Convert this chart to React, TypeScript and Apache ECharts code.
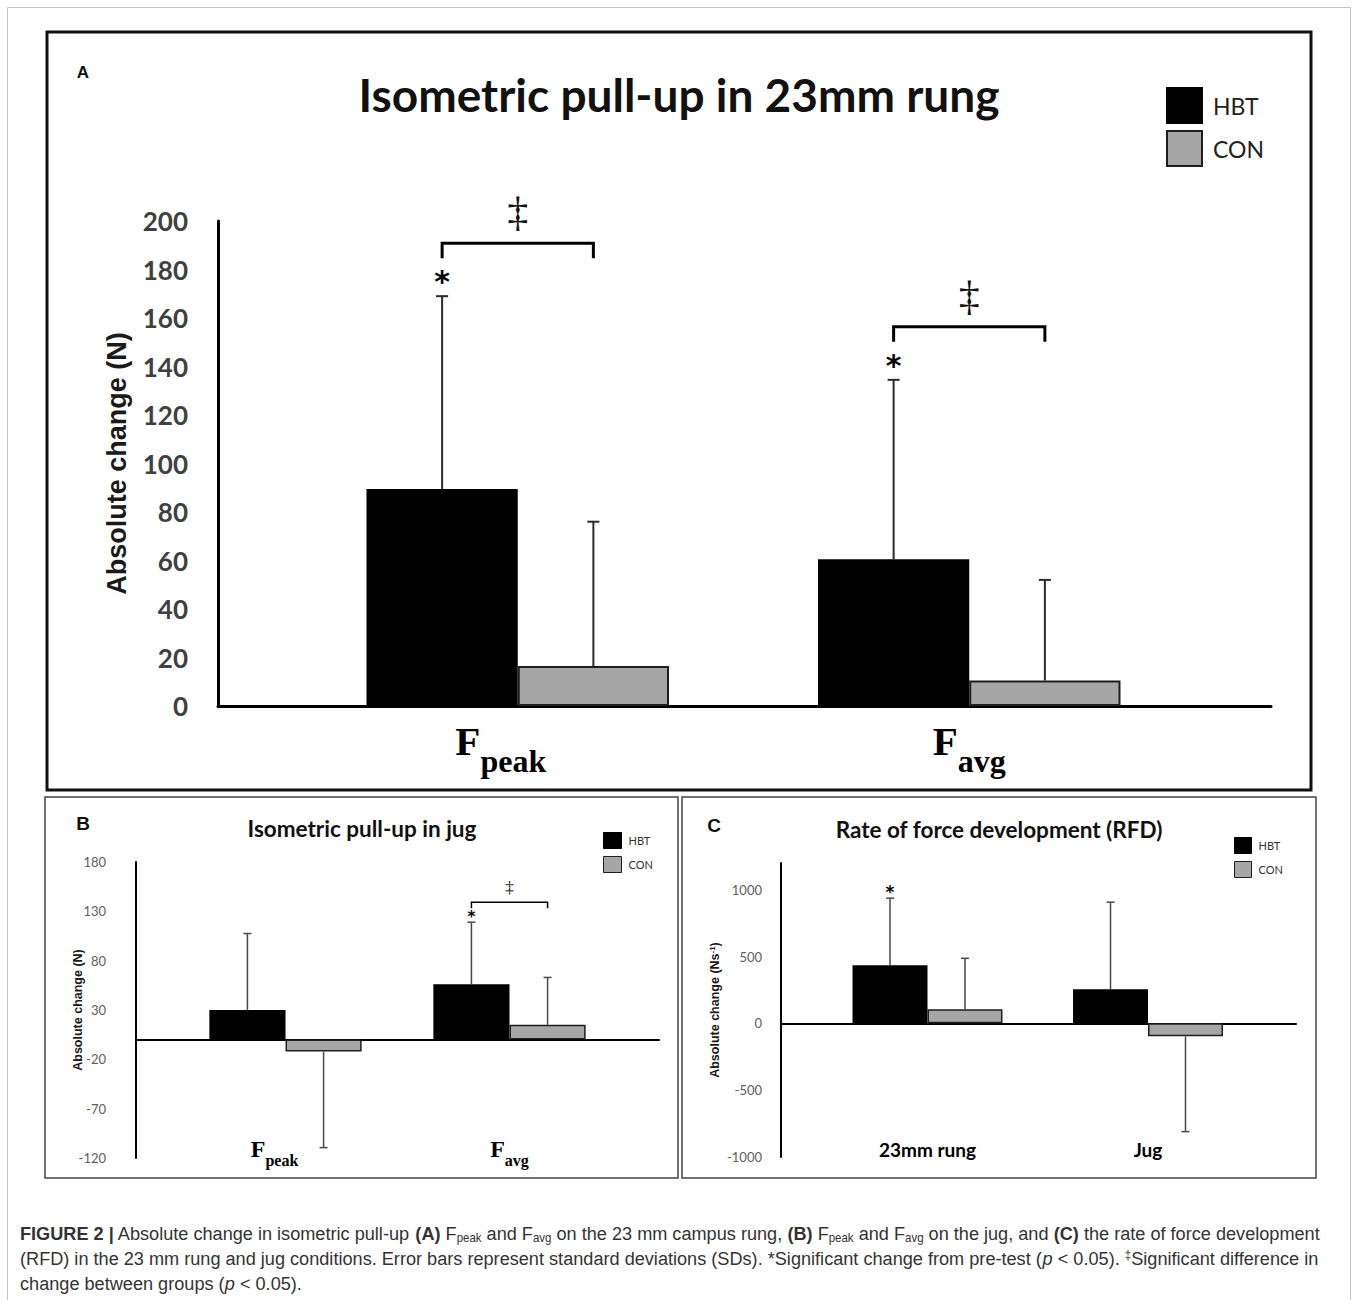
import React, { useEffect, useRef } from 'react';
import * as echarts from 'echarts';

// ---------- data ----------
const groupNames = ['HBT', 'CON'];

// Panel A: isometric pull-up in 23 mm rung (N)
const categoriesA = ['Fpeak', 'Favg'];
const hbtMeanA = [89.5, 60.5];
const hbtSdA = [79.5, 74];
const conMeanA = [16.5, 10.5];
const conSdA = [59.5, 41.5];
const starA = [1, 1];
const daggerA = [1, 1];
const yTicksA = [0, 200, 20]; // min, max, step

// Panel B: isometric pull-up in jug (N)
const categoriesB = ['Fpeak', 'Favg'];
const hbtMeanB = [30, 56];
const hbtSdB = [77.5, 63];
const conMeanB = [-12, 15];
const conSdB = [97.5, 48];
const starB = [0, 1];
const daggerB = [0, 1];
const yTicksB = [-120, 180, 50];

// Panel C: rate of force development (N/s)
const categoriesC = ['23mm rung', 'Jug'];
const hbtMeanC = [435, 255];
const hbtSdC = [502, 652];
const conMeanC = [105, -97];
const conSdC = [382, 713];
const starC = [1, 0];
const daggerC = [0, 0];
const yTicksC = [-1000, 1200, 500];

// ---------- styles ----------
const SANS = 'Lato, "Open Sans", "Liberation Sans", sans-serif';
const SERIF = '"Liberation Serif", "DejaVu Serif", serif';
const ARIAL = '"Liberation Sans", Arial, sans-serif';
const DEJA = '"DejaVu Sans", sans-serif';

type ErrStyle = {
  barFrac: number;
  errColor: string;
  errWidth: number;
  cap: number;
  starSize: number;
  starGap: number;
  bracketGap: number;
  bracketLeg: number;
  bracketWidth: number;
  daggerSize: number;
  daggerGap: number;
};

function errorSeries(
  cats: string[], hbt: number[], hbtSd: number[], con: number[], conSd: number[],
  star: number[], dagger: number[], axisIndex: number, st: ErrStyle
) {
  return {
    type: 'custom',
    xAxisIndex: axisIndex,
    yAxisIndex: axisIndex,
    z: 10,
    silent: true,
    data: cats.map((c, i) => [i, hbt[i], hbtSd[i], con[i], conSd[i], star[i], dagger[i]]),
    renderItem: (params: any, api: any) => {
      const i = api.value(0);
      const band = api.size([1, 0])[0];
      const bw = band * st.barFrac;
      const cx = api.coord([i, 0])[0];
      const xs = [cx - bw / 2, cx + bw / 2];
      const vals = [api.value(1), api.value(3)];
      const sds = [api.value(2), api.value(4)];
      const children: any[] = [];
      const ends: number[] = [];
      for (let k = 0; k < 2; k++) {
        const v = vals[k];
        const end = v >= 0 ? v + sds[k] : v - sds[k];
        const y0 = api.coord([i, v])[1];
        const y1 = api.coord([i, end])[1];
        ends.push(y1);
        const ls = { stroke: st.errColor, lineWidth: st.errWidth };
        children.push({ type: 'line', shape: { x1: xs[k], y1: y0, x2: xs[k], y2: y1 }, style: ls });
        children.push({ type: 'line', shape: { x1: xs[k] - st.cap / 2, y1, x2: xs[k] + st.cap / 2, y2: y1 }, style: ls });
      }
      if (api.value(5)) {
        children.push({
          type: 'text',
          x: xs[0],
          y: ends[0] - st.starGap + 0.18 * st.starSize,
          style: { text: '*', fontSize: st.starSize, fontFamily: DEJA, fontWeight: 'bold', fill: '#000', align: 'center', verticalAlign: 'middle' },
        });
      }
      if (api.value(6)) {
        const by = Math.min(ends[0], ends[1]) - st.bracketGap;
        children.push({
          type: 'polyline',
          shape: { points: [[xs[0], by + st.bracketLeg], [xs[0], by], [xs[1], by], [xs[1], by + st.bracketLeg]] },
          style: { fill: 'none', stroke: '#000', lineWidth: st.bracketWidth },
        });
        children.push({
          type: 'text',
          x: cx,
          y: by - st.daggerGap,
          style: { text: '\u2021', fontSize: st.daggerSize, fontFamily: SERIF, fill: '#111', align: 'center', verticalAlign: 'middle' },
        });
      }
      return { type: 'group', children };
    },
  };
}

function barSeries(name: string, data: number[], axisIndex: number, isHbt: boolean, bw: number, frac: string) {
  return {
    type: 'bar',
    name,
    xAxisIndex: axisIndex,
    yAxisIndex: axisIndex,
    data,
    barWidth: frac,
    barGap: '0%',
    z: 2,
    itemStyle: isHbt
      ? { color: '#000', borderColor: '#000', borderWidth: bw }
      : { color: '#a6a6a6', borderColor: '#1e1e1e', borderWidth: bw },
  };
}

// "F" + subscript; the Fpeak label sits a little left of its category centre
const subLabel = (v: string) => `{F|${v[0]}}{s|${v.slice(1)}}` + (v === 'Fpeak' ? '{w|}' : '');

function buildOption() {
  const grids = [
    { left: 292, top: 221, width: 903, height: 485 }, // A bars
    { left: 218, top: 221, width: 1053, height: 485 }, // A axis line
    { left: 173.5, top: 862, width: 448, height: 296 }, // B bars
    { left: 136, top: 862, width: 523, height: 296 }, // B axis line
    { left: 817.25, top: 863, width: 441, height: 294 }, // C bars
    { left: 781, top: 863, width: 515, height: 294 }, // C axis line
  ];

  const xAxis: any[] = [
    {
      gridIndex: 0, type: 'category', data: categoriesA,
      axisLine: { show: false, onZero: false }, axisTick: { show: false },
      axisLabel: {
        interval: 0, margin: 14, formatter: subLabel,
        rich: {
          F: { fontFamily: SERIF, fontWeight: 'bold', fontSize: 41, color: '#000', verticalAlign: 'top' },
          s: { fontFamily: SERIF, fontWeight: 'bold', fontSize: 32, color: '#000', verticalAlign: 'top', padding: [25, 0, 0, 0] },
          w: { width: 34 },
        },
      },
    },
    {
      gridIndex: 1, type: 'category', data: categoriesA,
      axisLine: { lineStyle: { color: '#000', width: 3 } }, axisTick: { show: false }, axisLabel: { show: false },
    },
    {
      gridIndex: 2, type: 'category', data: categoriesB,
      axisLine: { show: false, onZero: false }, axisTick: { show: false },
      axisLabel: {
        interval: 0, margin: -21, formatter: subLabel,
        rich: {
          F: { fontFamily: SERIF, fontWeight: 'bold', fontSize: 24, color: '#000', verticalAlign: 'top' },
          s: { fontFamily: SERIF, fontWeight: 'bold', fontSize: 16, color: '#000', verticalAlign: 'top', padding: [15, 0, 0, 0] },
          w: { width: 22 },
        },
      },
    },
    {
      gridIndex: 3, type: 'category', data: categoriesB,
      axisLine: { onZero: true, lineStyle: { color: '#000', width: 2 } }, axisTick: { show: false }, axisLabel: { show: false },
    },
    {
      gridIndex: 4, type: 'category', data: categoriesC,
      axisLine: { show: false, onZero: false }, axisTick: { show: false },
      axisLabel: { interval: 0, margin: -17.5, fontFamily: SANS, fontWeight: 'bold', fontSize: 19, color: '#000' },
    },
    {
      gridIndex: 5, type: 'category', data: categoriesC,
      axisLine: { onZero: true, lineStyle: { color: '#000', width: 2 } }, axisTick: { show: false }, axisLabel: { show: false },
    },
  ];

  const yAxis: any[] = [
    {
      gridIndex: 0, type: 'value', min: yTicksA[0], max: yTicksA[1], interval: yTicksA[2], offset: 74,
      axisLine: { show: true, lineStyle: { color: '#000', width: 3 } }, axisTick: { show: false }, splitLine: { show: false },
      axisLabel: { margin: 30, fontFamily: SANS, fontWeight: 'bold', fontSize: 26, color: '#404040' },
      name: 'Absolute change (N)', nameLocation: 'middle', nameRotate: 90, nameGap: 88, nameMoveOverlap: false,
      nameTextStyle: { fontFamily: ARIAL, fontWeight: 'bold', fontSize: 27, color: '#1a1a1a' },
    },
    { gridIndex: 1, type: 'value', min: yTicksA[0], max: yTicksA[1], show: false },
    {
      gridIndex: 2, type: 'value', min: yTicksB[0], max: yTicksB[1], interval: yTicksB[2], offset: 37.5,
      axisLine: { show: true, lineStyle: { color: '#000', width: 2 } }, axisTick: { show: false }, splitLine: { show: false },
      axisLabel: { margin: 30, fontFamily: SANS, fontSize: 13, color: '#606060' },
      name: 'Absolute change (N)', nameLocation: 'middle', nameRotate: 90, nameGap: 52, nameMoveOverlap: false,
      nameTextStyle: { fontFamily: ARIAL, fontWeight: 'bold', fontSize: 12.5, color: '#1a1a1a' },
    },
    { gridIndex: 3, type: 'value', min: yTicksB[0], max: yTicksB[1], show: false },
    {
      gridIndex: 4, type: 'value', min: yTicksC[0], max: yTicksC[1], interval: yTicksC[2], offset: 36.25,
      axisLine: { show: true, lineStyle: { color: '#000', width: 2 } }, axisTick: { show: false }, splitLine: { show: false },
      axisLabel: {
        margin: 19, fontFamily: SANS, fontSize: 13, color: '#606060',
        formatter: (v: number) => (v % yTicksC[2] === 0 ? String(v) : ''),
      },
      name: '{a|Absolute change (Ns}{u|-1}{a|)}', nameLocation: 'middle', nameRotate: 90, nameGap: 59, nameMoveOverlap: false,
      nameTextStyle: {
        rich: {
          a: { fontFamily: ARIAL, fontWeight: 'bold', fontSize: 12.5, color: '#1a1a1a' },
          u: { fontFamily: ARIAL, fontWeight: 'bold', fontSize: 8, color: '#1a1a1a', padding: [0, 0, 6, 0] },
        },
      },
    },
    { gridIndex: 5, type: 'value', min: yTicksC[0], max: yTicksC[1], show: false },
  ];

  const stA: ErrStyle = { barFrac: 0.335, errColor: '#2a2a2a', errWidth: 2, cap: 12, starSize: 30, starGap: 20, bracketGap: 53, bracketLeg: 15, bracketWidth: 3, daggerSize: 42, daggerGap: 31 };
  const stB: ErrStyle = { barFrac: 0.34, errColor: '#4a4a4a', errWidth: 1.5, cap: 8, starSize: 15, starGap: 8, bracketGap: 20, bracketLeg: 6, bracketWidth: 1.5, daggerSize: 17, daggerGap: 15 };
  const stC: ErrStyle = { barFrac: 0.34, errColor: '#4a4a4a', errWidth: 1.5, cap: 8, starSize: 17, starGap: 9, bracketGap: 20, bracketLeg: 6, bracketWidth: 1.5, daggerSize: 17, daggerGap: 15 };

  const series: any[] = [
    barSeries(groupNames[0], hbtMeanA, 0, true, 2, '33.5%'),
    barSeries(groupNames[1], conMeanA, 0, false, 2, '33.5%'),
    errorSeries(categoriesA, hbtMeanA, hbtSdA, conMeanA, conSdA, starA, daggerA, 0, stA),
    barSeries(groupNames[0], hbtMeanB, 2, true, 1.5, '34%'),
    barSeries(groupNames[1], conMeanB, 2, false, 1.5, '34%'),
    errorSeries(categoriesB, hbtMeanB, hbtSdB, conMeanB, conSdB, starB, daggerB, 2, stB),
    barSeries(groupNames[0], hbtMeanC, 4, true, 1.5, '34%'),
    barSeries(groupNames[1], conMeanC, 4, false, 1.5, '34%'),
    errorSeries(categoriesC, hbtMeanC, hbtSdC, conMeanC, conSdC, starC, daggerC, 4, stC),
  ];

  const legendBase = { data: groupNames, orient: 'vertical', icon: 'rect', selectedMode: false, padding: 0 };
  const legend = [
    { ...legendBase, left: 1166, top: 87, itemWidth: 35, itemHeight: 35, itemGap: 6, itemStyle: { borderWidth: 2 },
      textStyle: { fontFamily: SANS, fontSize: 23, color: '#222', padding: [0, 0, 0, 6] } },
    { ...legendBase, left: 603, top: 832, itemWidth: 18, itemHeight: 16, itemGap: 7, itemStyle: { borderWidth: 1 },
      textStyle: { fontFamily: SANS, fontSize: 11, color: '#333', padding: [0, 0, 0, 2] } },
    { ...legendBase, left: 1234, top: 837, itemWidth: 17, itemHeight: 16, itemGap: 7, itemStyle: { borderWidth: 1 },
      textStyle: { fontFamily: SANS, fontSize: 11, color: '#333', padding: [0, 0, 0, 2] } },
  ];

  const txt = (x: number, y: number, text: string, fontSize: number, fontFamily: string, extra: any = {}) => ({
    type: 'text', x, y, silent: true,
    style: { text, fontSize, fontFamily, fontWeight: 'bold', fill: '#111', textAlign: 'center', textVerticalAlign: 'middle', align: 'center', verticalAlign: 'middle', ...extra },
  });

  const capRich = {
    b: { fontFamily: ARIAL, fontWeight: 'bold', fontSize: 19, color: '#222' },
    s: { fontFamily: ARIAL, fontSize: 12, color: '#333', padding: [8, 0, 0, 0] },
    i: { fontFamily: ARIAL, fontSize: 19, fontStyle: 'italic', color: '#333' },
    u: { fontFamily: ARIAL, fontSize: 12, color: '#333', padding: [0, 0, 8, 0] },
  };
  const capLine = (y: number, text: string) => ({
    type: 'text', x: 20, y, scaleX: 0.955, silent: true,
    style: { text, fontFamily: ARIAL, fontSize: 19, fill: '#333', rich: capRich, textAlign: 'left', align: 'left', textVerticalAlign: 'middle', verticalAlign: 'middle' },
  });

  const graphic = [
    { type: 'rect', silent: true, shape: { x: 7.5, y: 7.5, width: 1343, height: 1400 }, style: { fill: 'none', stroke: '#c4c4c4', lineWidth: 1 } },
    { type: 'rect', silent: true, shape: { x: 47, y: 32, width: 1264, height: 758 }, style: { fill: 'none', stroke: '#111', lineWidth: 3 } },
    { type: 'rect', silent: true, shape: { x: 45, y: 797, width: 633, height: 381 }, style: { fill: 'none', stroke: '#444', lineWidth: 1.5 } },
    { type: 'rect', silent: true, shape: { x: 682, y: 797, width: 634, height: 381 }, style: { fill: 'none', stroke: '#444', lineWidth: 1.5 } },
    txt(83, 72, 'A', 17, ARIAL),
    txt(83, 823, 'B', 19, ARIAL),
    txt(714, 825, 'C', 19, ARIAL),
    txt(679, 94, 'Isometric pull-up in 23mm rung', 46, SANS),
    txt(362, 828, 'Isometric pull-up in jug', 22.5, SANS),
    txt(999, 829, 'Rate of force development (RFD)', 22.5, SANS),
    capLine(1233, '{b|FIGURE 2 |} Absolute change in isometric pull-up {b|(A)} F{s|peak} and F{s|avg} on the 23 mm campus rung, {b|(B)} F{s|peak} and F{s|avg} on the jug, and {b|(C)} the rate of force development'),
    capLine(1258, '(RFD) in the 23 mm rung and jug conditions. Error bars represent standard deviations (SDs). *Significant change from pre-test ({i|p} < 0.05). {u|\u2021}Significant difference in'),
    capLine(1283, 'change between groups ({i|p} < 0.05).'),
  ];

  return {
    animation: false,
    backgroundColor: '#fff',
    grid: grids,
    xAxis,
    yAxis,
    legend,
    series,
    graphic,
  };
}

export default function App() {
  const ref = useRef<HTMLDivElement>(null);
  useEffect(() => {
    if (!ref.current) return;
    const chart = echarts.init(ref.current, undefined, { renderer: 'svg' });
    chart.setOption(buildOption() as any);
    return () => chart.dispose();
  }, []);
  return <div ref={ref} style={{ position: 'absolute', left: 0, top: 0, width: 1358, height: 1300 }} />;
}
